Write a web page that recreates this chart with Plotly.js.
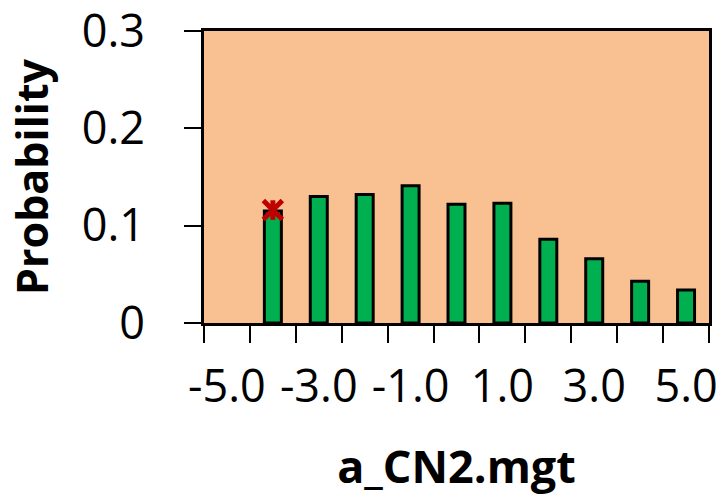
<!DOCTYPE html>
<html>
<head>
<meta charset="utf-8">
<script src="https://cdn.plot.ly/plotly-3.0.1.min.js"></script>
<style>html,body{margin:0;padding:0;background:#fff;}#chart{width:722px;height:501px;}</style>
</head>
<body>
<div id="chart"></div>
<script>
// Data
const binCenters = [-5, -4, -3, -2, -1, 0, 1, 2, 3, 4, 5];
const probabilities = [null, 0.115, 0.130, 0.132, 0.141, 0.122, 0.123, 0.086, 0.066, 0.043, 0.034];
const markerX = [-4];
const markerY = [0.116];
const xTickVals = [-5, -3, -1, 1, 3, 5];
const xTickText = ["-5.0", "-3.0", "-1.0", "1.0", "3.0", "5.0"];
const xBoundaries = [-5.5, -4.5, -3.5, -2.5, -1.5, -0.5, 0.5, 1.5, 2.5, 3.5, 4.5, 5.5];
const yTickVals = [0, 0.1, 0.2, 0.3];
const yTickText = ["0", "0.1", "0.2", "0.3"];

const FONT = "'Open Sans', sans-serif";

const traces = [
  {
    type: 'bar',
    x: binCenters,
    y: probabilities,
    width: 0.37,
    marker: {color: '#00B050', line: {color: '#000000', width: 3}},
    hoverinfo: 'skip'
  },
  {
    type: 'scatter', mode: 'markers',
    x: markerX, y: markerY,
    marker: {symbol: 'x-thin-open', size: 19, color: '#C00000', line: {color: '#C00000', width: 5}},
    hoverinfo: 'skip'
  },
  {
    type: 'scatter', mode: 'markers',
    x: markerX, y: markerY,
    marker: {symbol: 'line-ns-open', size: 14, color: '#C00000', line: {color: '#C00000', width: 5}},
    hoverinfo: 'skip'
  }
];

const layout = {
  width: 722, height: 501,
  showlegend: false,
  paper_bgcolor: '#ffffff',
  plot_bgcolor: '#F9C192',
  margin: {l: 204, r: 13, t: 31, b: 178, pad: 0},
  font: {family: FONT, color: '#000000', size: 45},
  xaxis: {
    range: [-5.5, 5.5],
    tickmode: 'array', tickvals: xTickVals, ticktext: xTickText,
    ticks: '', ticklabelstandoff: 22, ticklabeloverflow: 'allow',
    tickfont: {family: FONT, size: 45, color: '#000'},
    minor: {tickmode: 'array', tickvals: xBoundaries, ticks: 'outside', ticklen: 17, tickwidth: 2, tickcolor: '#000', showgrid: false},
    showline: true, mirror: true, linecolor: '#000', linewidth: 3,
    showgrid: false, zeroline: false,
    title: {text: 'a_CN2.mgt', font: {family: FONT, size: 45, color: '#000', weight: 'bold'}, standoff: 38},
    automargin: false,
    fixedrange: true
  },
  yaxis: {
    range: [0, 0.3],
    tickmode: 'array', tickvals: yTickVals, ticktext: yTickText,
    ticks: 'outside', ticklen: 17, tickwidth: 2, tickcolor: '#000',
    ticklabelstandoff: 30, ticklabeloverflow: 'allow',
    tickfont: {family: FONT, size: 45, color: '#000'},
    showline: true, mirror: true, linecolor: '#000', linewidth: 3,
    showgrid: false, zeroline: false,
    title: {text: 'Probability', font: {family: FONT, size: 43, color: '#000', weight: 'bold'}, standoff: 20},
    automargin: false,
    fixedrange: true
  }
};

Plotly.newPlot('chart', traces, layout, {displayModeBar: false, staticPlot: true});
</script>
</body>
</html>
